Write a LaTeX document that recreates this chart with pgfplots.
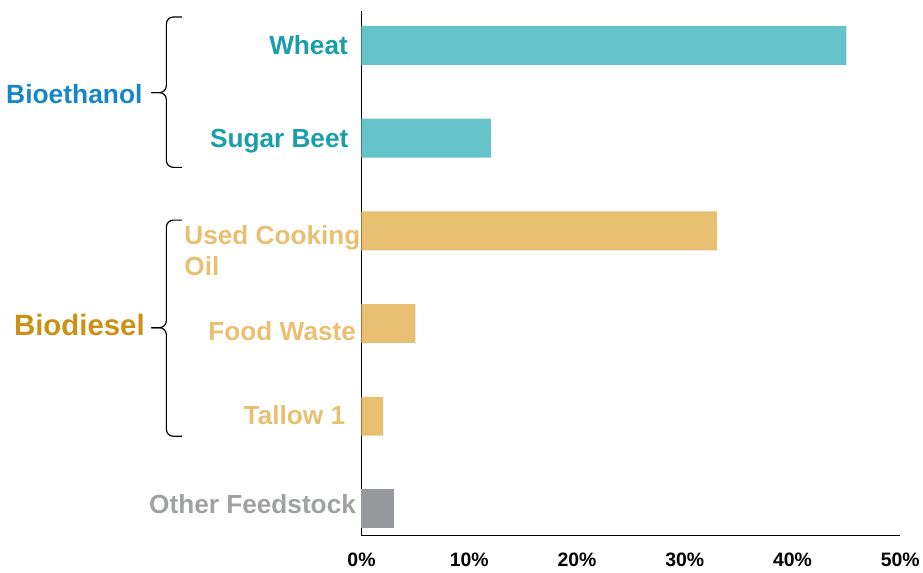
\documentclass[border=0pt]{standalone}
\usepackage{pgfplots}
\pgfplotsset{compat=1.18}
\usepackage{fontspec}
\setmainfont{Liberation Sans}
\definecolor{tealbar}{HTML}{67C3CA}
\definecolor{teallab}{HTML}{1A9EA8}
\definecolor{orangebar}{HTML}{E9BF72}
\definecolor{graybar}{HTML}{97989B}
\definecolor{graylab}{HTML}{A0A1A3}
\definecolor{bioeth}{HTML}{1786C9}
\definecolor{biodies}{HTML}{CC9014}
\begin{document}
\begin{tikzpicture}
\begin{axis}[
  scale only axis, width=541pt, height=527pt,
  xmin=0, xmax=50, ymin=-0.29, ymax=5.37,
  axis x line*=bottom, axis y line*=left,
  axis line style={-, line width=1.2pt, black},
  xtick={0,10,20,30,40,50},
  xticklabels={0\%,10\%,20\%,30\%,40\%,50\%},
  ytick=\empty, major tick length=0pt,
  xticklabel style={font=\fontsize{19.5}{22}\selectfont\bfseries, yshift=-14pt},
  clip=false,
]
\addplot[xbar, bar shift=0pt, bar width=0.42, fill=tealbar, draw=none] coordinates {(45,5) (12,4)};
\addplot[xbar, bar shift=0pt, bar width=0.42, fill=orangebar, draw=none] coordinates {(33,3) (5,2) (2,1)};
\addplot[xbar, bar shift=0pt, bar width=0.42, fill=graybar, draw=none] coordinates {(3,0)};

\begin{scope}[every node/.style={inner sep=0pt, font=\fontsize{26.3}{28}\selectfont\bfseries}]
\node[anchor=base east, text=teallab] at (axis cs:-1.25,4.905) {Wheat};
\node[anchor=base east, text=teallab] at (axis cs:-1.2,3.896) {Sugar Beet};
\node[anchor=base west, text=orangebar] at (axis cs:-16.45,2.857) {Used Cooking};
\node[anchor=base west, text=orangebar] at (axis cs:-16.45,2.517) {Oil};
\node[anchor=base east, text=orangebar] at (axis cs:-0.5,1.818) {Food Waste};
\node[anchor=base east, text=orangebar] at (axis cs:-1.5,0.916) {Tallow 1};
\node[anchor=base east, text=graylab] at (axis cs:-0.5,-0.054) {Other Feedstock};
\end{scope}
\node[anchor=base east, inner sep=0pt, text=bioeth, font=\fontsize{26.5}{28}\selectfont\bfseries] at (axis cs:-20.3,4.372) {Bioethanol};
\node[anchor=base east, inner sep=0pt, text=biodies, font=\fontsize{29.5}{32}\selectfont\bfseries] at (axis cs:-20.1,1.872) {Biodiesel};

\draw[line width=1.2pt, rounded corners=7pt] (axis cs:-16.64,5.306) -| (axis cs:-18.11,4.49) -- (axis cs:-19.5,4.49);
\draw[line width=1.2pt, rounded corners=7pt] (axis cs:-16.64,3.684) -| (axis cs:-18.11,4.49) -- (axis cs:-19.5,4.49);
\draw[line width=1.2pt, rounded corners=7pt] (axis cs:-16.64,3.115) -| (axis cs:-18.11,1.955) -- (axis cs:-19.5,1.955);
\draw[line width=1.2pt, rounded corners=7pt] (axis cs:-16.64,0.784) -| (axis cs:-18.11,1.955) -- (axis cs:-19.5,1.955);

\path (axis cs:-33.55,5.489) rectangle (axis cs:51.76,-0.687);
\end{axis}
\end{tikzpicture}
\end{document}
